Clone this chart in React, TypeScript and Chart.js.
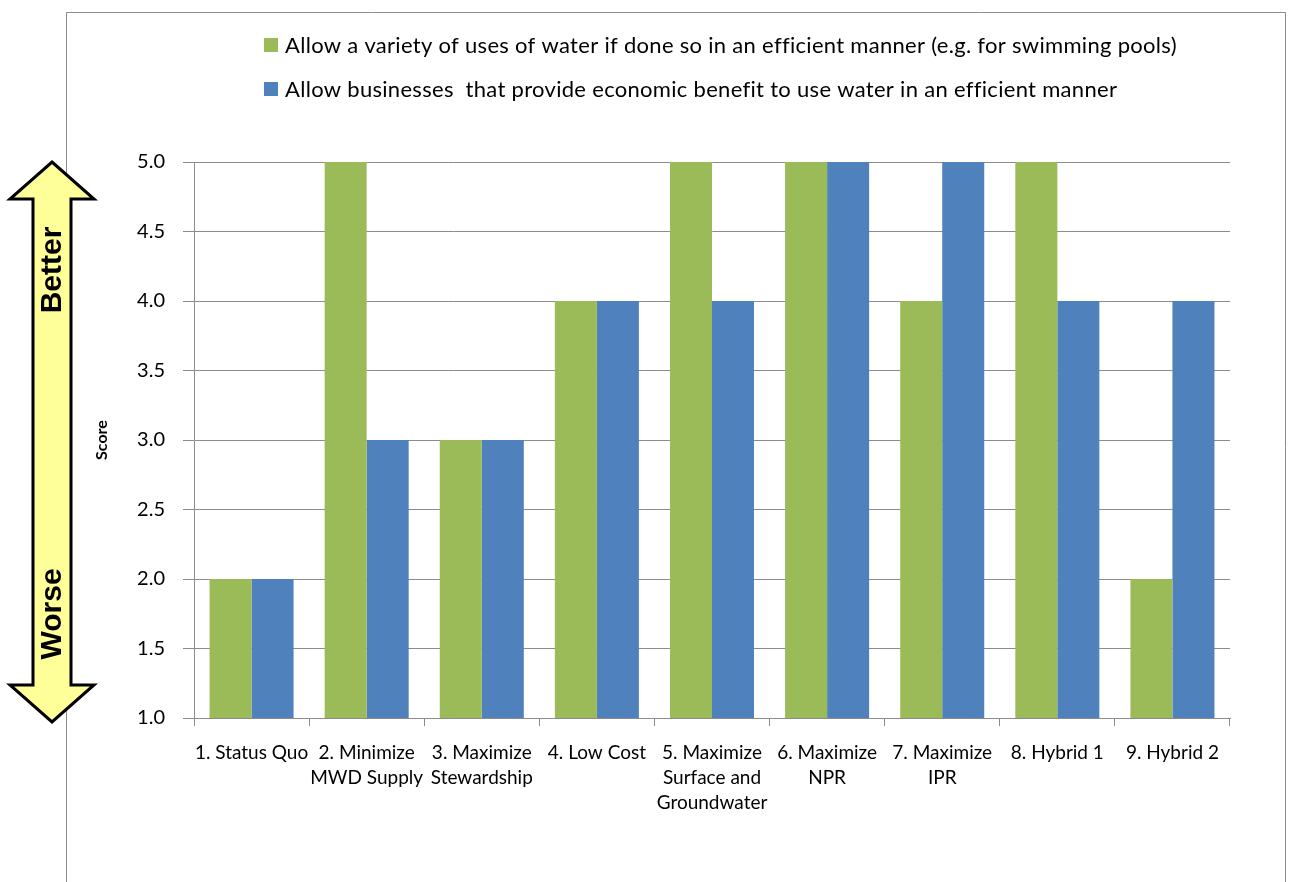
import React, { useEffect, useRef } from "react";
import { Chart, registerables } from "chart.js";

Chart.register(...registerables);

const categories: string[][] = [
  ["1. Status Quo"],
  ["2. Minimize", "MWD Supply"],
  ["3. Maximize", "Stewardship"],
  ["4. Low Cost"],
  ["5. Maximize", "Surface and", "Groundwater"],
  ["6. Maximize", "NPR"],
  ["7. Maximize", "IPR"],
  ["8. Hybrid 1"],
  ["9. Hybrid 2"],
];
const varietyScores = [2, 5, 3, 4, 5, 5, 4, 5, 2];
const businessScores = [2, 3, 3, 4, 4, 5, 5, 4, 4];
const seriesNames = [
  "Allow a variety of uses of water if done so in an efficient manner (e.g. for swimming pools)",
  "Allow businesses  that provide economic benefit to use water in an efficient manner",
];
const seriesColors = ["#9BBB59", "#4F81BD"];
const yMin = 1;
const yMax = 5;
const yStep = 0.5;
const yTitle = "Score";
const arrowTop = "Better";
const arrowBottom = "Worse";

const FONT = "Lato, 'Liberation Sans', sans-serif";

const decorPlugin = {
  id: "decor",
  afterDraw(chart: any) {
    const ctx = chart.ctx as CanvasRenderingContext2D;
    ctx.save();
    // outer frame
    ctx.strokeStyle = "#8c8c8c";
    ctx.lineWidth = 1;
    ctx.beginPath();
    ctx.moveTo(66.5, 900);
    ctx.lineTo(66.5, 12.5);
    ctx.lineTo(1285.5, 12.5);
    ctx.lineTo(1285.5, 900);
    ctx.stroke();

    // legend
    ctx.font = `22px ${FONT}`;
    (ctx as any).letterSpacing = "0.3px";
    ctx.textBaseline = "middle";
    ctx.textAlign = "left";
    const ys = [45, 89];
    for (let i = 0; i < 2; i++) {
      ctx.fillStyle = seriesColors[i];
      ctx.fillRect(264, ys[i] - 7, 14, 14);
      ctx.fillStyle = "#000";
      ctx.fillText(seriesNames[i], 285, ys[i] + 1);
    }
    (ctx as any).letterSpacing = "0px";

    // double arrow
    const cx = 52;
    const tipT = 162, baseT = 199, baseB = 685, tipB = 722;
    const hl = 10, hr = 94, sl = 33, sr = 71;
    ctx.beginPath();
    ctx.moveTo(cx, tipT);
    ctx.lineTo(hr, baseT);
    ctx.lineTo(sr, baseT);
    ctx.lineTo(sr, baseB);
    ctx.lineTo(hr, baseB);
    ctx.lineTo(cx, tipB);
    ctx.lineTo(hl, baseB);
    ctx.lineTo(sl, baseB);
    ctx.lineTo(sl, baseT);
    ctx.lineTo(hl, baseT);
    ctx.closePath();
    ctx.fillStyle = "#FFFF99";
    ctx.fill();
    ctx.lineWidth = 3;
    ctx.strokeStyle = "#000";
    ctx.lineJoin = "miter";
    ctx.stroke();

    // arrow texts
    ctx.fillStyle = "#000";
    ctx.font = `bold 30px 'Liberation Sans', Arial, sans-serif`;
    ctx.textAlign = "center";
    ctx.textBaseline = "middle";
    ctx.save();
    ctx.translate(53, 270);
    ctx.rotate(-Math.PI / 2);
    ctx.fillText(arrowTop, 0, 0);
    ctx.restore();
    ctx.save();
    ctx.translate(53, 614);
    ctx.rotate(-Math.PI / 2);
    ctx.fillText(arrowBottom, 0, 0);
    ctx.restore();

    // y title
    ctx.save();
    ctx.font = `bold 16px ${FONT}`;
    ctx.translate(102, 440);
    ctx.rotate(-Math.PI / 2);
    ctx.fillText(yTitle, 0, 0);
    ctx.restore();

    ctx.restore();
  },
};

export default function App() {
  const ref = useRef<HTMLCanvasElement | null>(null);
  useEffect(() => {
    if (!ref.current) return;
    const chart = new Chart(ref.current, {
      type: "bar",
      data: {
        labels: categories,
        datasets: [
          {
            label: seriesNames[0],
            data: varietyScores,
            backgroundColor: seriesColors[0],
            borderWidth: 0,
          },
          {
            label: seriesNames[1],
            data: businessScores,
            backgroundColor: seriesColors[1],
            borderWidth: 0,
          },
        ],
      },
      options: {
        animation: false,
        responsive: false,
        layout: { padding: { left: 94, right: 60, top: 162, bottom: 10 } },
        plugins: {
          legend: { display: false },
          tooltip: { enabled: false },
        },
        datasets: {
          bar: { categoryPercentage: 0.73, barPercentage: 1 },
        },
        scales: {
          x: {
            grid: {
              offset: true,
              drawOnChartArea: false,
              drawTicks: true,
              tickLength: 8,
              color: "#8c8c8c",
            },
            border: { color: "#8c8c8c", width: 1 },
            ticks: {
              autoSkip: false,
              maxRotation: 0,
              minRotation: 0,
              color: "#000",
              padding: 15,
              font: { family: FONT, size: 19, lineHeight: 1.3 },
            },
            afterFit(scale: any) {
              scale.height = 154;
            },
          },
          y: {
            min: yMin,
            max: yMax,
            ticks: {
              stepSize: yStep,
              color: "#000",
              padding: 18,
              font: { family: FONT, size: 20 },
              callback: (v: any) => Number(v).toFixed(1),
            },
            grid: { color: "#8c8c8c", tickLength: 11 },
            border: { color: "#8c8c8c", width: 1 },
            afterFit(scale: any) {
              scale.width = 100;
            },
          },
        },
      },
      plugins: [decorPlugin],
    });
    return () => chart.destroy();
  }, []);
  return (
    <div style={{ position: "absolute", left: 0, top: 0, width: 1290, height: 882, background: "#fff" }}>
      <canvas ref={ref} width={1290} height={882} style={{ display: "block" }} />
    </div>
  );
}
